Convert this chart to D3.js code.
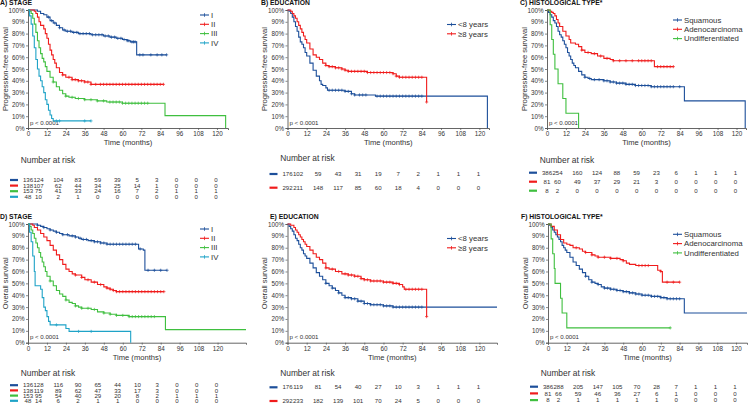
<!DOCTYPE html>
<html>
<head>
<meta charset="utf-8">
<script src="https://cdn.jsdelivr.net/npm/d3@7"></script>
<style>
  body { margin: 0; background: #fff; }
  svg { display: block; font-family: "Liberation Sans", Arial, sans-serif; }
</style>
</head>
<body>
<svg id="chart" width="748" height="409"></svg>
<script>
// ---- data (time in months, survival in %) ----
const timeTicks = [0, 12, 24, 36, 48, 60, 72, 84, 96, 108, 120];
const pctTicks = [0, 10, 20, 30, 40, 50, 60, 70, 80, 90, 100];

const stageNames = ['I', 'II', 'III', 'IV'];
const eduNames = ['<8 years', '\u22658 years'];
const histNames = ['Squamous', 'Adenocarcinoma', 'Undifferentiated'];

// A) progression-free survival by stage
const pfsStageI = [[0,100],[6,99],[8,97],[10,96],[12,94],[14,91],[16,89],[18,87],[20,85],[22,83],[24,82],[28,81],[32,80],[40,79],[48,78],[52,77],[56,76],[60,75],[63,74],[65,73],[69,62],[88,62]];
const pfsStageII = [[0,100],[4,99],[5,97],[6,94],[7,90],[8,87],[10,84],[11,80],[12,76],[13,71],[14,66],[15,62],[16,58],[17,55],[18,51],[20,47],[22,45],[24,43],[28,41],[32,40],[36,39],[40,37],[86,37]];
const pfsStageIII = [[0,100],[1,99],[2,97],[3,93],[4,88],[5,81],[6,74],[7,68],[8,63],[9,59],[10,56],[11,52],[12,48],[14,43],[16,39],[18,35],[20,32],[22,29],[24,27],[26,26],[30,25],[36,24],[44,23],[50,22],[60,21],[87,21],[87,10.5],[125.5,10.5],[125.5,0]];
const pfsStageIV = [[0,100],[1,95],[2,88],[3,78],[4,68],[5,58],[6,50],[7,44],[8,40],[9,35],[10,30],[11,24],[12,20],[13,15],[14,11],[15,8],[16,6],[40,6]];
const pfsStageICens = [13,15,17,20,23,25,27,29,31,33,35,37,39,41,43,45,47,49,51,53,55,57,59,61,63,64,66,67,68,71,73,78,82,85,88];
const pfsStageIICens = [22,26,28,30,32,34,36,38,40,43,46,48,50,52,54,56,58,60,62,64,66,68,70,72,74,76,78,80,82,84,86];
const pfsStageIIICens = [16,24,28,32,36,40,44,48,52,54,56,58,60,62,64,66,68,70,72,74,76];
const pfsStageIVCens = [18,20,36,40];
const pfsStageRisk = [
  [136,124,104,83,59,39,5,3,0,0,0],
  [138,107,62,44,34,25,14,1,0,0,0],
  [153,75,41,33,24,16,7,2,1,1,1],
  [48,10,2,1,0,0,0,0,0,0,0]
];

// B) progression-free survival by education
const pfsEduLow = [[0,100],[1,99],[2,97],[3,94],[4,90],[5,86],[6,82],[7,77],[8,73],[9,71],[10,68],[11,64],[12,61],[14,55],[16,49],[18,44],[20,40],[21,37],[22,36],[24,34],[25,32],[36,31],[40,29],[42,28],[54,28],[55,27],[125,27],[125,0]];
const pfsEduHigh = [[0,100],[2,99],[3,97],[4,95],[5,93],[6,90],[7,87],[8,84],[9,81],[10,78],[11,75],[12,72],[14,67],[16,62],[18,60],[20,58],[22,55],[24,53],[26,52],[30,51],[34,50],[36,49],[38,48],[48,48],[50,47],[64,47],[66,46],[68,44],[70,43],[87,43],[87,22]];
const pfsEduLowCens = [26,28,30,32,34,36,38,40,42,45,47,49,56,58,60,62,64,66,68,70,72,74,76,78,80,82,84];
const pfsEduHighCens = [24,26,28,30,32,34,36,38,40,42,44,46,48,50,52,54,56,58,60,62,64,66,68,70,72,74,76,78,80,82,84,87];
const pfsEduRisk = [
  [176,102,59,43,31,19,7,2,1,1,1],
  [292,211,148,117,85,60,18,4,0,0,0]
];

// C) progression-free survival by histological type
const pfsHistSq = [[0,100],[1,98],[2,96],[3,94],[4,91],[5,89],[6,86],[7,82],[8,79],[9,77],[10,74],[11,71],[12,68],[13,64],[14,61],[15,58],[16,55],[17,53],[18,51],[20,48],[22,45],[24,43],[26,42],[28,41],[36,40],[40,39],[44,38],[50,37],[56,36],[66,35],[87,35],[87,23],[125.5,23],[125.5,0]];
const pfsHistAd = [[0,100],[2,99],[3,98],[4,97],[5,95],[6,92],[7,89],[8,86],[10,82],[12,78],[14,75],[15,72],[18,71],[20,69],[22,66],[24,64],[28,63],[32,61],[36,59],[40,58],[42,57],[68,57],[68,52],[80,52]];
const pfsHistUn = [[0,100],[2,87.5],[3,75],[4,62.5],[5,50],[7,37.5],[10,25],[12,12.5],[20,12.5],[20,0]];
const pfsHistSqCens = [24,27,30,33,36,38,40,42,44,46,48,50,52,54,56,58,60,62,64,66,68,70,72,74,76,78,80,84];
const pfsHistAdCens = [22,26,30,34,38,42,46,50,54,58,60,62,64,66,70,72,74,76,78,80];
const pfsHistUnCens = [];
const pfsHistRisk = [
  [386,254,160,124,88,59,23,6,1,1,1],
  [81,60,49,37,29,21,3,0,0,0,0],
  [8,2,0,0,0,0,0,0,0,0,0]
];

// D) overall survival by stage
const osStageI = [[0,100],[6,99],[8,98],[10,97],[12,96],[14,95],[16,94],[18,93],[20,92],[22,91],[26,90],[30,89],[32,88],[34,87],[38,86],[42,85],[46,84],[50,83],[68,83],[70,79],[73,78],[74,61],[88,61]];
const osStageII = [[0,100],[3,99],[4,97],[6,95],[8,92],[10,89],[12,86],[14,82],[16,78],[18,74],[20,70],[22,66],[24,62],[26,60],[28,58],[30,57],[34,55],[36,53],[40,51],[44,49],[48,47],[50,46],[52,45],[54,44],[56,43],[86,43]];
const osStageIII = [[0,100],[1,98],[2,95],[3,92],[4,88],[5,84],[6,80],[7,76],[8,72],[9,68],[10,64],[11,60],[12,56],[14,52],[16,48],[18,44],[20,41],[22,39],[24,36],[26,34],[28,33],[30,31],[32,30],[34,29],[40,28],[44,26],[48,25],[52,24],[56,23],[64,22],[87,22],[87,11],[138,11]];
const osStageIV = [[0,100],[1,93],[2,85],[3,73],[4,60],[4.5,48],[8,45],[9,38],[10,30],[11,27],[12,22],[13,18],[14,15],[24,12],[26,9.5],[65,9.5],[65,0]];
const osStageICens = [6,10,14,18,22,25,28,30,33,35,37,40,42,44,46,48,50,52,54,56,58,60,62,64,66,68,71,76,80,84,88];
const osStageIICens = [30,34,38,42,46,50,52,54,56,58,60,62,64,66,68,70,72,74,76,78,80,82,84,86];
const osStageIIICens = [14,24,30,34,38,42,48,52,56,60,64,66,68,70,72,74,76,78,80];
const osStageIVCens = [18,32,40];
const osStageRisk = [
  [136,128,116,90,65,44,10,3,0,0,0],
  [138,119,89,62,47,33,17,3,0,0,0],
  [153,95,54,40,29,20,8,2,1,1,1],
  [48,14,6,2,1,1,0,0,0,0,0]
];

// E) overall survival by education
const osEduLow = [[0,100],[1,98],[2,96],[3,94],[4,91],[5,88],[6,86],[7,83],[8,80],[9,78],[10,75],[11,73],[12,71],[14,67],[16,63],[18,59],[20,56],[22,53],[24,50],[26,48],[28,46],[30,44],[32,42],[34,40],[36,38],[40,37],[44,35],[48,33],[52,32],[60,31],[66,30],[131,30]];
const osEduHigh = [[0,100],[2,99],[4,97],[5,95],[6,93],[7,91],[8,89],[9,87],[10,85],[11,83],[12,81],[14,78],[16,75],[18,72],[20,70],[22,67],[24,63],[26,62],[30,60],[34,58],[38,57],[42,56],[46,54],[48,53],[52,52],[60,51],[66,50],[70,49],[72,47],[73,45],[87,45],[87,22]];
const osEduLowCens = [24,28,32,36,38,40,42,44,46,48,50,52,54,56,58,60,62,64,66,68,70,72,74,76,78,80,82,84];
const osEduHighCens = [24,28,32,36,38,40,42,44,46,48,50,52,54,56,58,60,62,64,66,68,70,74,76,78,80,82,84,87];
const osEduRisk = [
  [176,119,81,54,40,27,10,3,1,1,1],
  [292,233,182,139,101,70,24,5,0,0,0]
];

// F) overall survival by histological type
const osHistSq = [[0,100],[1,99],[2,97],[3,95],[4,93],[5,91],[6,89],[7,87],[8,85],[9,82],[10,80],[11,78],[12,76],[14,72],[16,68],[18,65],[20,62],[22,59],[24,56],[26,53],[28,51],[30,50],[32,49],[34,47],[36,46],[40,45],[44,44],[48,43],[52,42],[56,41],[60,40],[66,39],[72,38],[76,37],[87,37],[87,25],[127,25]];
const osHistAd = [[0,100],[2,98],[4,95],[6,91],[8,87],[10,84],[12,83],[14,82],[16,80],[20,79],[22,77],[24,76],[28,74],[30,73],[32,72],[40,71],[44,71],[46,70],[48,69],[50,67],[52,66],[56,65],[68,65],[70,61],[72,60],[73,51],[84,51]];
const osHistUn = [[0,100],[2,87.5],[3,75],[4,62.5],[4.5,50],[8,37.5],[9,25],[12,12.5],[78,12.5]];
const osHistSqCens = [24,28,32,36,38,40,42,44,46,48,50,52,54,56,58,60,62,64,66,68,70,72,74,76,78,80,82,84];
const osHistAdCens = [18,24,28,32,36,40,44,48,58,60,62,64,72,76,80,84];
const osHistUnCens = [78];
const osHistRisk = [
  [386,288,205,147,105,70,28,7,1,1,1],
  [81,66,59,46,36,27,6,1,0,0,0],
  [8,2,1,1,1,1,1,0,0,0,0]
];

// ---- colours ----
const blue = '#1d4f9a', red = '#f01c1c', green = '#3fbf3f', teal = '#1fa3c7';
const stageColors = [blue, red, green, teal];
const eduColors = [blue, red];
const histColors = [blue, red, green];

// ---- panel layout (pixels) ----
const panels = [
  { title: 'A) STAGE', titleX: 0, yTitle: 'Progression-free survival', top: 10, bottom: 128, left: 28, right: 228, xMax: 127,
    names: stageNames, colors: stageColors, curves: [pfsStageI, pfsStageII, pfsStageIII, pfsStageIV],
    cens: [pfsStageICens, pfsStageIICens, pfsStageIIICens, pfsStageIVCens], risk: pfsStageRisk,
    legendX: 200, legendY: 15, riskTop: 160, riskRow0: 180, riskStep: 5.6 },
  { title: 'B) EDUCATION', titleX: 261, yTitle: 'Progression-free survival', top: 10, bottom: 128, left: 287.5, right: 489, xMax: 126,
    names: eduNames, colors: eduColors, curves: [pfsEduLow, pfsEduHigh],
    cens: [pfsEduLowCens, pfsEduHighCens], risk: pfsEduRisk,
    legendX: 447, legendY: 24.5, riskTop: 158.5, riskRow0: 174, riskStep: 13.7 },
  { title: 'C) HISTOLOGICAL TYPE*', titleX: 520, yTitle: 'Progression-free survival', top: 10, bottom: 128, left: 547, right: 746, xMax: 126,
    names: histNames, colors: histColors, curves: [pfsHistSq, pfsHistAd, pfsHistUn],
    cens: [pfsHistSqCens, pfsHistAdCens, pfsHistUnCens], risk: pfsHistRisk,
    legendX: 673, legendY: 20, riskTop: 160, riskRow0: 172.7, riskStep: 9 },
  { title: 'D) STAGE', titleX: 0, yTitle: 'Overall survival', top: 224, bottom: 342.7, left: 28, right: 246, xMax: 138,
    names: stageNames, colors: stageColors, curves: [osStageI, osStageII, osStageIII, osStageIV],
    cens: [osStageICens, osStageIICens, osStageIIICens, osStageIVCens], risk: osStageRisk,
    legendX: 200, legendY: 229, riskTop: 373, riskRow0: 385.2, riskStep: 5.2 },
  { title: 'E) EDUCATION', titleX: 270, yTitle: 'Overall survival', top: 224, bottom: 342.7, left: 287.5, right: 497, xMax: 131,
    names: eduNames, colors: eduColors, curves: [osEduLow, osEduHigh],
    cens: [osEduLowCens, osEduHighCens], risk: osEduRisk,
    legendX: 447, legendY: 238.5, riskTop: 373.3, riskRow0: 387.3, riskStep: 13.7 },
  { title: 'F) HISTOLOGICAL TYPE*', titleX: 521, yTitle: 'Overall survival', top: 224, bottom: 342.7, left: 548, right: 747, xMax: 127,
    names: histNames, colors: histColors, curves: [osHistSq, osHistAd, osHistUn],
    cens: [osHistSqCens, osHistAdCens, osHistUnCens], risk: osHistRisk,
    legendX: 673, legendY: 234.3, riskTop: 372.7, riskRow0: 386.7, riskStep: 6.7 }
];

const svg = d3.select('#chart');
const axisColor = '#555';
const textColor = '#333';

// survival value in force at time t (step function)
function survAt(curve, t) {
  let s = curve[0][1];
  for (const [ct, cs] of curve) {
    if (ct <= t) s = cs; else break;
  }
  return s;
}

function drawPanel(p) {
  const g = svg.append('g');
  const x = d3.scaleLinear().domain([0, p.xMax]).range([p.left, p.right]);
  const y = d3.scaleLinear().domain([0, 100]).range([p.bottom, p.top]);

  // title
  g.append('text').attr('x', p.titleX).attr('y', p.top - 7).attr('dy', '0.35em')
    .attr('font-size', 6.8).attr('font-weight', 'bold').attr('fill', '#111').text(p.title);

  // axes
  const yAxis = d3.axisLeft(y).tickValues(pctTicks).tickFormat(d => d + '%').tickSize(2).tickPadding(1.5);
  const xAxis = d3.axisBottom(x).tickValues(timeTicks).tickSize(2).tickPadding(1.5);
  const ya = g.append('g').attr('transform', `translate(${p.left},0)`).call(yAxis);
  const xa = g.append('g').attr('transform', `translate(0,${p.bottom})`).call(xAxis);
  [ya, xa].forEach(a => {
    a.select('.domain').attr('stroke', axisColor).attr('stroke-width', 0.9);
    a.selectAll('.tick line').attr('stroke', axisColor).attr('stroke-width', 0.7);
    a.selectAll('.tick text').attr('font-size', 6.3).attr('fill', textColor)
      .attr('font-family', '"Liberation Sans", Arial, sans-serif');
  });

  // axis titles
  g.append('text').attr('x', (p.left + p.right) / 2).attr('y', p.bottom + 14.3).attr('dy', '0.35em')
    .attr('text-anchor', 'middle').attr('font-size', 7.6).attr('fill', textColor).text('Time (months)');
  g.append('text').attr('transform', `translate(${p.left - 23},${(p.top + p.bottom) / 2}) rotate(-90)`)
    .attr('dy', '0.35em').attr('text-anchor', 'middle').attr('font-size', 7.6).attr('fill', textColor).text(p.yTitle);

  // p value
  g.append('text').attr('x', p.left + 2).attr('y', p.bottom - 5.5).attr('dy', '0.35em')
    .attr('font-size', 6.1).attr('fill', textColor).text('p < 0.0001');

  // curves
  const line = d3.line().x(d => x(d[0])).y(d => y(d[1])).curve(d3.curveStepAfter);
  p.curves.forEach((c, i) => {
    g.append('path').attr('d', line(c)).attr('fill', 'none')
      .attr('stroke', p.colors[i]).attr('stroke-width', 1.1);
    const marks = g.append('g').attr('stroke', p.colors[i]).attr('stroke-width', 0.7);
    p.cens[i].forEach(t => {
      const cx = x(t), cy = y(survAt(c, t));
      marks.append('line').attr('x1', cx - 1.6).attr('x2', cx + 1.6).attr('y1', cy).attr('y2', cy);
      marks.append('line').attr('x1', cx).attr('x2', cx).attr('y1', cy - 1.6).attr('y2', cy + 1.6);
    });
  });

  // legend
  p.names.forEach((n, i) => {
    const ly = p.legendY + i * 9.3;
    const lg = g.append('g').attr('stroke', p.colors[i]);
    lg.append('line').attr('x1', p.legendX).attr('x2', p.legendX + 9).attr('y1', ly).attr('y2', ly).attr('stroke-width', 1.1);
    lg.append('line').attr('x1', p.legendX + 4.5).attr('x2', p.legendX + 4.5).attr('y1', ly - 1.8).attr('y2', ly + 1.8).attr('stroke-width', 0.8);
    g.append('text').attr('x', p.legendX + 11).attr('y', ly).attr('dy', '0.35em')
      .attr('font-size', 7.8).attr('fill', textColor).text(n);
  });

  // risk table: the count at 0 sits at the y axis, the later columns spread up to the 120 tick
  const rx = d3.scaleLinear().domain([12, 120]).range([x(0) + 10.5, x(120) - 1]);
  const riskX = t => (t === 0 ? x(0) : rx(t));
  g.append('text').attr('x', p.left - 7.3).attr('y', p.riskTop).attr('dy', '0.35em')
    .attr('font-size', 8.4).attr('fill', textColor).text('Number at risk');
  p.risk.forEach((row, i) => {
    const ry = p.riskRow0 + i * p.riskStep;
    g.append('line').attr('x1', p.left - 18).attr('x2', p.left - 10).attr('y1', ry).attr('y2', ry)
      .attr('stroke', p.colors[i]).attr('stroke-width', 2.2);
    g.selectAll(null).data(row).join('text')
      .attr('x', (d, j) => riskX(timeTicks[j])).attr('y', ry).attr('dy', '0.35em')
      .attr('text-anchor', 'middle').attr('font-size', 6.1).attr('fill', textColor).text(d => d);
  });
}

panels.forEach(drawPanel);
</script>
</body>
</html>
